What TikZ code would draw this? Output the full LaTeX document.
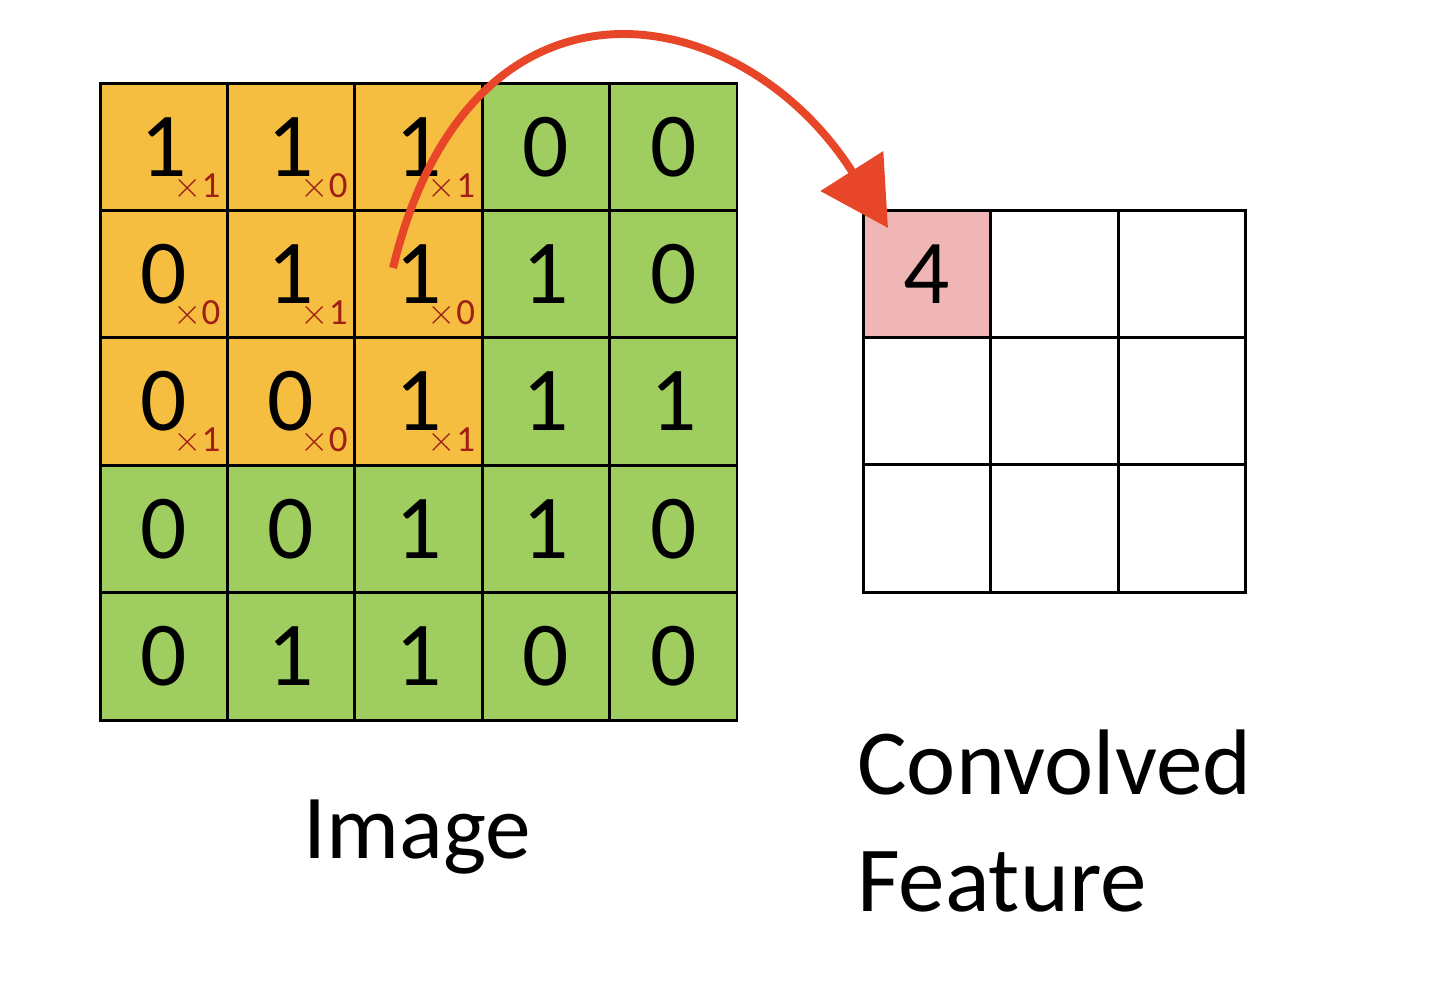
\documentclass[tikz,border=0pt]{standalone}
\usepackage{fontspec}
\setmainfont{Carlito}
\usetikzlibrary{arrows.meta}
\definecolor{kernorange}{RGB}{245,190,65}
\definecolor{imggreen}{RGB}{160,205,95}
\definecolor{outpink}{RGB}{240,182,182}
\definecolor{arrowred}{RGB}{232,70,40}
\definecolor{wtred}{RGB}{160,30,20}
\tikzset{
  cell/.style={draw=black, line width=1.7pt, minimum size=2.548cm, inner sep=0pt, font=\fontsize{52}{52}\selectfont},
  wt/.style={font=\fontsize{21}{21}\selectfont, text=wtred, inner sep=0pt}
}
\begin{document}
\begin{tikzpicture}[x=0.02cm, y=-0.02cm]
\useasboundingbox (0,0) rectangle (1432,992);
% Image grid
\foreach \r/\row in {0/{1,1,1,0,0},1/{0,1,1,1,0},2/{0,0,1,1,1},3/{0,0,1,1,0},4/{0,1,1,0,0}} {
  \foreach \v [count=\c from 0] in \row {
    \pgfmathsetmacro{\inker}{(\r<3 && \c<3) ? 1 : 0}
    \ifdim\inker pt>0.5pt
      \node[cell, fill=kernorange] (im\r\c) at ({100+127.4*(\c+0.5)},{83+127.4*(\r+0.5)}) {\v};
    \else
      \node[cell, fill=imggreen] (im\r\c) at ({100+127.4*(\c+0.5)},{83+127.4*(\r+0.5)}) {\v};
    \fi
  }
}
% Kernel weights
\foreach \r/\row in {0/{1,0,1},1/{0,1,0},2/{1,0,1}} {
  \foreach \w [count=\c from 0] in \row {
    \node[wt] (w\r\c) at ([xshift=0.66cm,yshift=-0.8cm]im\r\c.center) {$\times$\w};
  }
}
% Convolved feature grid
\foreach \r in {0,1,2} {
  \foreach \c in {0,1,2} {
    \node[cell] (cf\r\c) at ({863+127.7*(\c+0.5)},{210+127.4*(\r+0.5)}) {};
  }
}
\node[cell, fill=outpink] (cf00) at ({863+127.7*0.5},{210+127.4*0.5}) {4};
% Labels
\node[font=\fontsize{52}{52}\selectfont, anchor=base] (imglabel) at (417,858) {Image};
\node[font=\fontsize{53}{53}\selectfont, anchor=base west, inner sep=0pt] (cvlabel) at (857,794) {Convolved};
\node[font=\fontsize{53}{53}\selectfont, anchor=base west, inner sep=0pt] (ftlabel) at (857,911) {Feature};
% Arrow
\coordinate (arrstart) at (393,268);
\coordinate (arrend) at (888,228);
\draw[arrowred, line width=4.5pt, -{Triangle[length=1.35cm,width=1.45cm]}]
  (arrstart) .. controls (470,-50) and (740,-5) .. (arrend);
\end{tikzpicture}
\end{document}
